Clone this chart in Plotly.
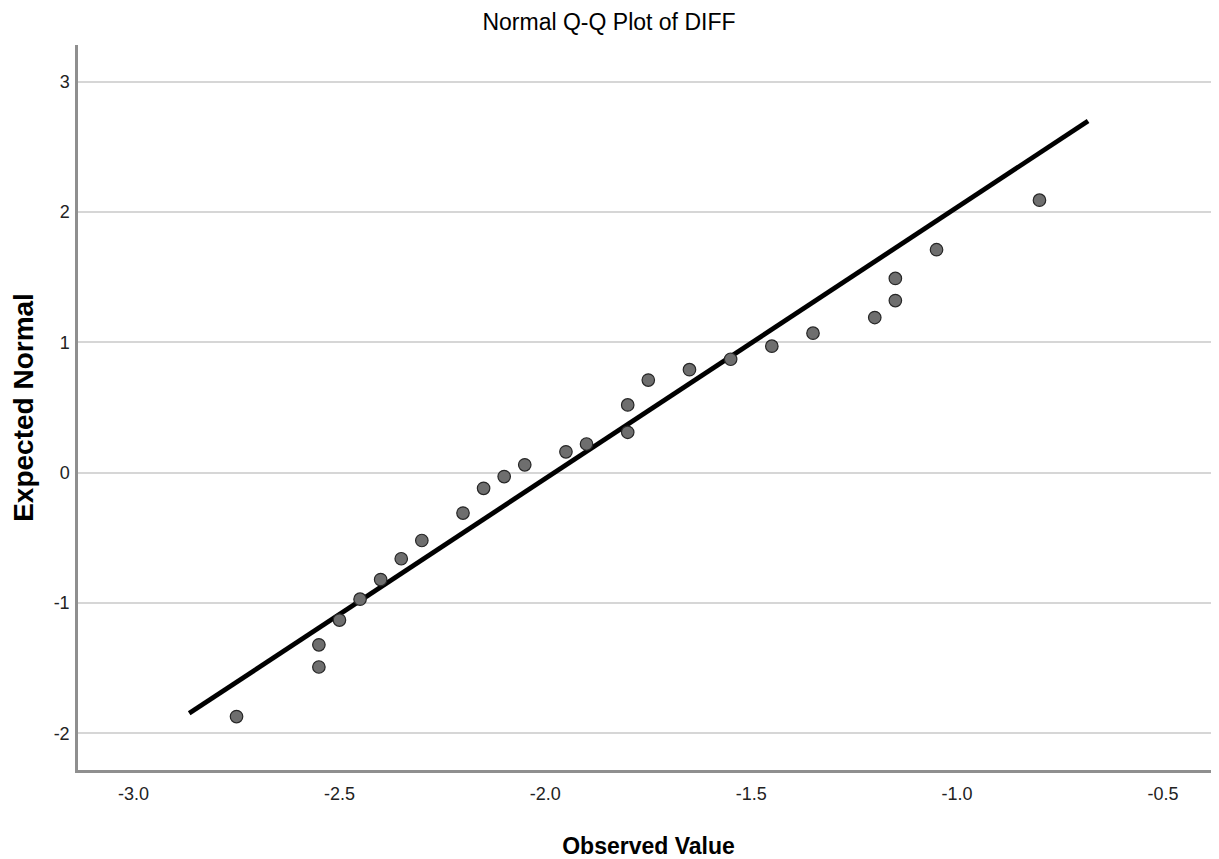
import plotly.graph_objects as go

observed = [-2.75, -2.55, -2.55, -2.50, -2.45, -2.40, -2.35, -2.30, -2.20, -2.15,
            -2.10, -2.05, -1.95, -1.90, -1.80, -1.80, -1.75, -1.65, -1.55, -1.45,
            -1.35, -1.20, -1.15, -1.15, -1.05, -0.80]
expected = [-1.87, -1.49, -1.32, -1.13, -0.97, -0.82, -0.66, -0.52, -0.31, -0.12,
            -0.03, 0.06, 0.16, 0.22, 0.31, 0.52, 0.71, 0.79, 0.87, 0.97,
            1.07, 1.19, 1.32, 1.49, 1.71, 2.09]

# Reference line end points
line_x = [-2.865, -0.682]
line_y = [-1.845, 2.697]

x_ticks = [-3.0, -2.5, -2.0, -1.5, -1.0, -0.5]
x_labels = ["-3.0", "-2.5", "-2.0", "-1.5", "-1.0", "-0.5"]
y_ticks = [-2, -1, 0, 1, 2, 3]
y_labels = ["-2", "-1", "0", "1", "2", "3"]

FONT = "Liberation Sans, Arial, sans-serif"
NARROW = "Liberation Sans Narrow, Arial Narrow, Liberation Sans, sans-serif"

fig = go.Figure()
fig.add_trace(go.Scatter(
    x=line_x, y=line_y, mode="lines",
    line=dict(color="black", width=4.8),
    showlegend=False, hoverinfo="skip"))
fig.add_trace(go.Scatter(
    x=observed, y=expected, mode="markers",
    marker=dict(size=12.5, color="#6e6e6e", line=dict(color="#262626", width=1.2)),
    showlegend=False))

W, H = 1211, 851  # page adds an 8px body margin
fig.update_layout(
    width=W, height=H,
    margin=dict(l=70, r=0, t=37, b=89),
    paper_bgcolor="white", plot_bgcolor="white",
    font=dict(family=FONT, color="black"),
    title=dict(text="Normal Q-Q Plot of DIFF", x=(609 - 8) / W, xref="container",
               y=1 - 6 / H, yref="container", yanchor="top", xanchor="center",
               font=dict(size=23, family=FONT, color="black")),
    xaxis=dict(
        range=[-3.135, -0.364], tickvals=x_ticks, ticktext=x_labels,
        showgrid=False, zeroline=False,
        showline=True, linecolor="#8f8f8f", linewidth=2.5,
        ticks="", ticklabelstandoff=6,
        tickfont=dict(size=18, family=NARROW, color="#222"),
        title=dict(text="<b>Observed Value</b>", standoff=40,
                   font=dict(size=23, family=FONT, color="black"))),
    yaxis=dict(
        range=[-2.28, 3.28], tickvals=y_ticks, ticktext=y_labels,
        showgrid=True, gridcolor="#d6d6d6", gridwidth=2, zeroline=False,
        showline=True, linecolor="#8f8f8f", linewidth=2.5,
        ticks="", ticklabelstandoff=2,
        tickfont=dict(size=18, family=NARROW, color="#222"),
        title=dict(text="<b>Expected Normal</b>", standoff=27,
                   font=dict(size=28, family=FONT, color="black"))),
)

fig.write_html("out.html")
